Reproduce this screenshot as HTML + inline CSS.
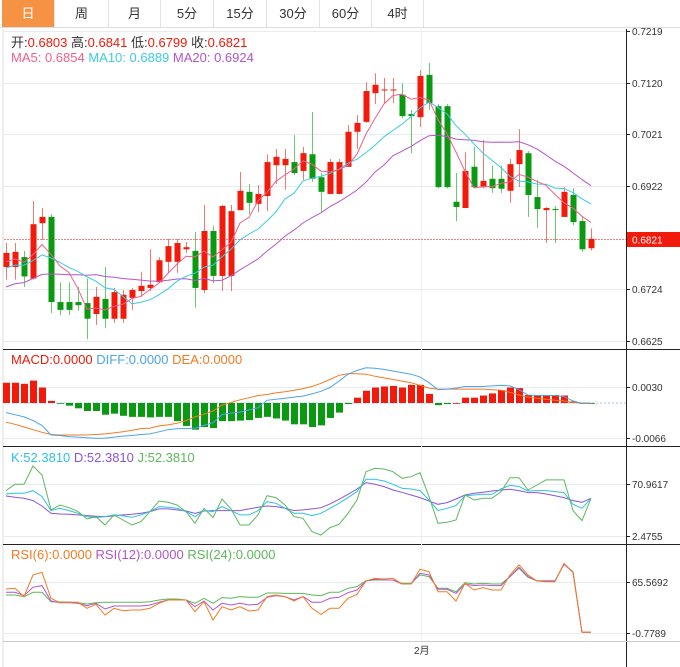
<!DOCTYPE html>
<html><head><meta charset="utf-8">
<style>
html,body{margin:0;padding:0;background:#fff;width:680px;height:667px;overflow:hidden;font-family:"Liberation Sans","Noto Sans CJK SC",sans-serif;}
#tabs{position:absolute;left:0;top:0;width:680px;height:27px;border-bottom:1px solid #ddd;}
.tab{position:absolute;top:0;height:27px;line-height:27px;text-align:center;font-size:13px;color:#333;border-right:1px solid #e2e2e2;box-sizing:border-box;}
.tab.active{background:#f59244;color:#fff;}
svg{position:absolute;left:0;top:0;}
</style></head><body>
<div id="tabs">
<div class="tab active" style="left:2px;width:53px">日</div>
<div class="tab" style="left:55px;width:54px">周</div>
<div class="tab" style="left:109px;width:52px">月</div>
<div class="tab" style="left:161px;width:53px">5分</div>
<div class="tab" style="left:214px;width:53px">15分</div>
<div class="tab" style="left:267px;width:53px">30分</div>
<div class="tab" style="left:320px;width:52px">60分</div>
<div class="tab" style="left:372px;width:52px">4时</div>
</div>
<svg id="chart" width="680" height="667" style="top:0"></svg>
<script>
const opens=[0.6767,0.6767,0.6786,0.6745,0.6851,0.6863,0.6700,0.6700,0.6700,0.6698,0.6677,0.6706,0.6668,0.6668,0.6708,0.6721,0.6727,0.6738,0.6777,0.6777,0.6801,0.6798,0.6723,0.6836,0.6750,0.6750,0.6876,0.6911,0.6888,0.6903,0.6962,0.6962,0.6968,0.6951,0.6983,0.6939,0.6907,0.6907,0.6959,0.7026,0.7045,0.7100,0.7106,0.7106,0.7097,0.7060,0.7054,0.7135,0.7075,0.7075,0.6892,0.6880,0.6959,0.6920,0.6936,0.6936,0.6913,0.6964,0.6985,0.6901,0.6876,0.6878,0.6863,0.6905,0.6855,0.6803];
const highs=[0.6813,0.6813,0.6798,0.6894,0.6880,0.6868,0.6738,0.6738,0.6729,0.6745,0.6729,0.6767,0.6727,0.6723,0.6727,0.6758,0.6801,0.6786,0.6821,0.6821,0.6815,0.6834,0.6886,0.6846,0.6886,0.6886,0.6949,0.6926,0.6924,0.6983,0.6993,0.6993,0.7020,0.6997,0.7064,0.6947,0.6974,0.6974,0.7039,0.7058,0.7121,0.7138,0.7129,0.7129,0.7119,0.7068,0.7144,0.7158,0.7079,0.7079,0.6947,0.6987,0.6997,0.7010,0.6961,0.6961,0.6974,0.7031,0.6989,0.6934,0.6882,0.6884,0.6920,0.6918,0.6863,0.6841];
const lows=[0.6743,0.6743,0.6729,0.6743,0.6819,0.6679,0.6675,0.6675,0.6683,0.6629,0.6656,0.6650,0.6660,0.6660,0.6685,0.6710,0.6721,0.6738,0.6756,0.6756,0.6794,0.6689,0.6717,0.6736,0.6721,0.6721,0.6876,0.6868,0.6872,0.6874,0.6926,0.6915,0.6943,0.6934,0.6930,0.6872,0.6907,0.6907,0.6959,0.6993,0.7043,0.7079,0.7081,0.7081,0.7052,0.6985,0.7035,0.7068,0.6918,0.6918,0.6855,0.6880,0.6920,0.6918,0.6909,0.6909,0.6890,0.6920,0.6863,0.6842,0.6813,0.6813,0.6863,0.6847,0.6796,0.6799];
const closes=[0.6794,0.6796,0.6749,0.6849,0.6863,0.6700,0.6685,0.6685,0.6694,0.6668,0.6710,0.6668,0.6719,0.6714,0.6723,0.6731,0.6733,0.6780,0.6807,0.6813,0.6805,0.6727,0.6836,0.6750,0.6884,0.6874,0.6913,0.6890,0.6907,0.6968,0.6978,0.6974,0.6947,0.6985,0.6936,0.6911,0.6968,0.6968,0.7026,0.7043,0.7104,0.7116,0.7107,0.7107,0.7056,0.7056,0.7133,0.7081,0.6920,0.6920,0.6882,0.6951,0.6920,0.6932,0.6918,0.6917,0.6964,0.6991,0.6905,0.6878,0.6880,0.6876,0.6911,0.6853,0.6801,0.6821];
const prevCloses=[0.6680,0.6700,0.6690,0.6710,0.6685,0.6695,0.6705,0.6690,0.6690,0.6685,0.6740,0.6750,0.6760,0.6755,0.6760,0.6770,0.6780,0.6775,0.6767];
const priceTicks=[0.7219,0.7120,0.7021,0.6922,0.6724,0.6625];
const macdHist=[0.0038,0.0038,0.0036,0.0042,0.0029,0.0004,-0.0001,-0.0005,-0.0010,-0.0015,-0.0015,-0.0022,-0.0020,-0.0024,-0.0026,-0.0026,-0.0027,-0.0026,-0.0026,-0.0034,-0.0043,-0.0050,-0.0045,-0.0047,-0.0034,-0.0034,-0.0033,-0.0032,-0.0028,-0.0026,-0.0029,-0.0033,-0.0040,-0.0040,-0.0045,-0.0042,-0.0028,-0.0018,-0.0002,0.0010,0.0023,0.0029,0.0031,0.0032,0.0029,0.0034,0.0034,0.0017,-0.0004,-0.0002,0.0000,0.0010,0.0010,0.0014,0.0018,0.0024,0.0029,0.0028,0.0015,0.0015,0.0015,0.0015,0.0014,0.0003,-0.0001,-0.0001];
const diffLine=[-0.0018,-0.0022,-0.0026,-0.0033,-0.0042,-0.0060,-0.0061,-0.0063,-0.0064,-0.0065,-0.0066,-0.0066,-0.0064,-0.0062,-0.0061,-0.0059,-0.0058,-0.0054,-0.0050,-0.0048,-0.0048,-0.0047,-0.0042,-0.0037,-0.0022,-0.0019,-0.0017,-0.0013,-0.0009,0.0005,0.0007,0.0009,0.0011,0.0013,0.0017,0.0022,0.0029,0.0041,0.0054,0.0061,0.0066,0.0065,0.0063,0.0060,0.0057,0.0054,0.0049,0.0038,0.0025,0.0026,0.0028,0.0031,0.0031,0.0031,0.0032,0.0033,0.0032,0.0025,0.0015,0.0014,0.0014,0.0014,0.0012,0.0004,-0.0001,-0.0001];
const deaLine=[-0.0036,-0.0040,-0.0045,-0.0050,-0.0055,-0.0059,-0.0060,-0.0060,-0.0060,-0.0060,-0.0059,-0.0058,-0.0056,-0.0054,-0.0051,-0.0048,-0.0047,-0.0043,-0.0041,-0.0038,-0.0033,-0.0026,-0.0021,-0.0015,-0.0004,0.0001,0.0006,0.0010,0.0014,0.0016,0.0019,0.0021,0.0024,0.0027,0.0031,0.0037,0.0044,0.0052,0.0055,0.0055,0.0054,0.0050,0.0047,0.0044,0.0041,0.0038,0.0033,0.0028,0.0026,0.0026,0.0026,0.0026,0.0026,0.0026,0.0025,0.0024,0.0020,0.0015,0.0011,0.0009,0.0007,0.0005,0.0004,0.0001,0.0000,0.0000];
const macdTicks=[0.0030,-0.0066];
const kLine=[58.2,59.1,59.1,62.6,54.7,36.3,39.4,36.3,32.8,28.4,27.1,28.4,30.6,29.3,27.5,30.6,35.0,41.6,40.7,39.4,35.0,28.4,36.3,35.0,41.6,36.3,30.6,30.6,36.3,48.1,46.0,39.4,32.8,32.8,29.7,32.8,39.4,46.0,53.4,61.3,77.5,77.5,75.3,71.0,65.7,64.8,62.6,50.3,36.3,39.4,42.9,56.0,56.9,57.8,57.8,64.8,69.6,67.9,62.2,62.6,62.6,61.3,60.0,44.6,39.4,52.5];
const dLine=[55.6,53.8,52.5,49.5,42.4,32.8,31.9,31.5,30.6,29.7,28.8,28.4,29.3,30.6,31.5,32.8,35.0,38.5,38.5,37.2,35.8,32.8,35.8,36.3,36.3,36.3,36.3,38.5,40.7,42.4,41.6,39.4,36.3,37.2,38.5,40.2,45.1,51.2,57.8,64.8,73.2,71.0,67.9,63.5,60.4,56.9,53.4,49.0,44.6,46.8,51.6,56.9,59.1,60.4,62.2,63.5,64.4,62.6,60.0,60.0,58.2,56.0,53.4,49.5,47.3,52.5];
const jLine=[62.6,71.0,71.0,95.1,83.2,37.2,43.7,40.2,35.0,25.3,28.4,17.4,30.6,24.0,17.4,21.8,35.0,49.0,47.3,43.7,35.0,19.6,39.4,27.1,51.6,38.5,17.4,17.4,30.6,56.0,53.4,43.7,28.4,26.2,8.6,4.2,13.9,18.3,32.8,50.3,87.6,92.0,91.1,87.6,78.9,81.0,86.3,54.7,19.6,20.9,24.0,56.9,50.3,52.5,52.5,61.3,79.7,79.7,63.5,70.1,76.7,76.7,76.7,36.3,23.1,52.5];
const kdjTicks=[70.9617,2.4755];
const rsi6=[56.8,57.7,46.8,75.2,78.6,44.6,38.9,39.4,39.4,31.5,36.8,22.7,31.5,28.4,29.3,29.3,31.5,38.1,42.4,42.4,42.4,27.1,40.2,16.2,33.7,29.3,33.7,28.0,29.3,46.8,48.9,46.8,41.1,46.8,31.5,23.6,31.5,31.5,44.6,49.9,67.3,70.8,69.9,70.8,63.4,63.4,82.6,79.5,53.3,53.3,41.1,64.3,55.5,58.6,55.5,55.5,75.2,88.3,75.2,67.3,66.4,66.4,90.4,78.2,0.1,0.1];
const rsi12=[52.5,52.5,48.1,59.0,61.2,41.1,38.9,38.9,38.1,35.0,38.1,30.6,34.6,34.6,34.6,34.6,35.9,39.4,42.4,42.4,42.4,33.7,41.1,29.3,38.1,35.9,38.1,35.9,36.8,45.9,48.1,46.8,42.4,46.8,39.4,39.4,44.6,45.9,52.0,55.5,67.3,69.5,68.6,68.6,63.4,63.4,77.3,75.2,56.4,56.4,51.1,63.4,61.2,62.1,61.2,61.2,73.0,85.2,73.0,67.3,67.3,67.3,89.1,78.6,0.1,0.1];
const rsi24=[48.9,48.9,46.8,52.5,52.5,40.2,39.8,39.8,38.9,37.2,38.9,39.4,39.4,39.4,39.4,39.4,40.2,42.4,43.7,43.7,42.4,38.1,44.6,38.1,45.5,44.6,46.8,45.9,45.9,51.6,51.6,51.1,51.1,51.1,48.9,48.1,52.5,52.5,57.7,59.9,67.7,68.6,68.6,68.6,64.3,64.3,75.2,73.0,57.7,57.7,53.3,65.1,63.4,64.3,63.4,63.4,73.0,83.9,72.1,67.7,67.7,67.7,89.1,79.5,0.1,0.1];
const rsiTicks=[65.5692,-0.7789];

const NS='http://www.w3.org/2000/svg';
const svg=document.getElementById('chart');
const RED='#f21a0a',GREEN='#0a9a12';
function mk(tag,attrs,parent){const e=document.createElementNS(NS,tag);for(const k in attrs)e.setAttribute(k,attrs[k]);(parent||svg).appendChild(e);return e;}
const xOf=i=>6+9*i;
const yPrice=p=>31+(0.7219-p)/0.0099*51.7;
const yMacd=v=>403-v/0.0030*16;
const yKdj=v=>536.3-(v-2.4755)/(70.9617-2.4755)*52;
const yRsi=v=>633-(v+0.7789)/(65.5692+0.7789)*50.7;

let e;
e=mk('line',{x1:3,y1:29,x2:3,y2:667,stroke:'#ddd'});

e=mk('line',{x1:626.5,y1:29,x2:626.5,y2:667,stroke:'#222'});

[[349,'#222'],[446,'#222'],[544,'#222'],[641,'#ccc']].forEach(([y,c])=>{const l=mk('line',{x1:3,y1:y+0.5,x2:680,y2:y+0.5,stroke:c});
});
e=mk('line',{x1:421.5,y1:29,x2:421.5,y2:641,stroke:'#eef1f4'});


function tick(y,label,name){
  const g=mk('line',{x1:4,y1:y,x2:626,y2:y,stroke:'#e6ecf0'});
  
  mk('line',{x1:626,y1:y,x2:630,y2:y,stroke:'#222'});
  const t=mk('text',{x:632,y:y+3.5,'font-size':'10','fill':'#333'});t.textContent=label;
  
}
priceTicks.forEach(p=>tick(Math.round(yPrice(p))+0.5,p.toFixed(4),'price-tick'));
macdTicks.forEach(v=>tick(Math.round(yMacd(v))+0.5,v.toFixed(4),'macd-tick'));
kdjTicks.forEach(v=>tick(Math.round(yKdj(v))+0.5,v.toFixed(4),'kdj-tick'));
rsiTicks.forEach(v=>tick(Math.round(yRsi(v))+0.5,v.toFixed(4),'rsi-tick'));

const all=prevCloses.concat(closes);
function ma(n){return closes.map((c,i)=>{const j=i+prevCloses.length;let s=0;for(let k=j-n+1;k<=j;k++)s+=all[k];return s/n;});}
function poly(arr,yf,color,name){
  const pts=arr.map((v,i)=>xOf(i)+','+yf(v).toFixed(1)).join(' ');
  const p=mk('polyline',{points:pts,fill:'none',stroke:color,'stroke-width':'1'});
  
}

const cy=Math.round(yPrice(closes[closes.length-1]))+0.5;
e=mk('line',{x1:4,y1:cy,x2:626,y2:cy,stroke:'#f08080','stroke-dasharray':'2,1'});


closes.forEach((c,i)=>{
  const o=opens[i],up=c>=o,col=up?RED:GREEN,wcol=up?'#f07a70':'#6cc86c';
  const x=xOf(i);
  const w=mk('line',{x1:x+0.5,y1:yPrice(highs[i]),x2:x+0.5,y2:yPrice(lows[i]),stroke:wcol});
  
  const top=yPrice(Math.max(o,c)),bot=yPrice(Math.min(o,c));
  const b=mk('rect',{x:x-2.5,y:top,width:6,height:Math.max(1,bot-top),fill:col});
  
});
poly(ma(20),yPrice,'#b455c8','ma20-line');
poly(ma(10),yPrice,'#3ccbe2','ma10-line');
poly(ma(5),yPrice,'#f0608c','ma5-line');

e=mk('rect',{x:627,y:cy-7.5,width:53,height:15,fill:'#f21a0a'});

e=mk('text',{x:632,y:cy+4,'font-size':'10',fill:'#fff'});e.textContent=closes[closes.length-1].toFixed(4);


const z=yMacd(0);
e=mk('line',{x1:4,y1:z,x2:626,y2:z,stroke:'#9cc8ee','stroke-dasharray':'2,2'});

macdHist.forEach((v,i)=>{
  const y=yMacd(v);
  const r=mk('rect',{x:xOf(i)-3,y:Math.min(y,z),width:7,height:Math.max(0.8,Math.abs(y-z)),fill:v>=0?RED:GREEN});
  
});
poly(deaLine,yMacd,'#f47a22','dea-line');
poly(diffLine,yMacd,'#4da3f0','diff-line');

poly(dLine,yKdj,'#8a55d6','kdj-d-line');
poly(kLine,yKdj,'#2ec2e0','kdj-k-line');
poly(jLine,yKdj,'#5cb85c','kdj-j-line');

poly(rsi24,yRsi,'#5cb85c','rsi24-line');
poly(rsi12,yRsi,'#b455c8','rsi12-line');
poly(rsi6,yRsi,'#f47a22','rsi6-line');

function legend(y,parts,name){
  const t=mk('text',{x:11,y:y,'font-size':'13'});
  
  parts.forEach(([s,c])=>{const ts=mk('tspan',{fill:c},t);ts.textContent=s;});
}
legend(47,[['开:','#333'],['0.6803  ','#f21a0a'],['高:','#333'],['0.6841  ','#f21a0a'],['低:','#333'],['0.6799  ','#f21a0a'],['收:','#333'],['0.6821','#f21a0a']],'ohlc-legend');
legend(62,[['MA5: 0.6854  ','#f0608c'],['MA10: 0.6889  ','#3ccbe2'],['MA20: 0.6924','#b455c8']],'ma-legend');
legend(364,[['MACD:0.0000  ','#f21a0a'],['DIFF:0.0000  ','#4da3f0'],['DEA:0.0000','#f47a22']],'macd-legend');
legend(462,[['K:52.3810  ','#2ec2e0'],['D:52.3810  ','#8a55d6'],['J:52.3810','#5cb85c']],'kdj-legend');
legend(559,[['RSI(6):0.0000  ','#f47a22'],['RSI(12):0.0000  ','#b455c8'],['RSI(24):0.0000','#5cb85c']],'rsi-legend');
e=mk('text',{x:414,y:654,'font-size':'10',fill:'#333'});e.textContent='2月';

</script>
</body></html>
